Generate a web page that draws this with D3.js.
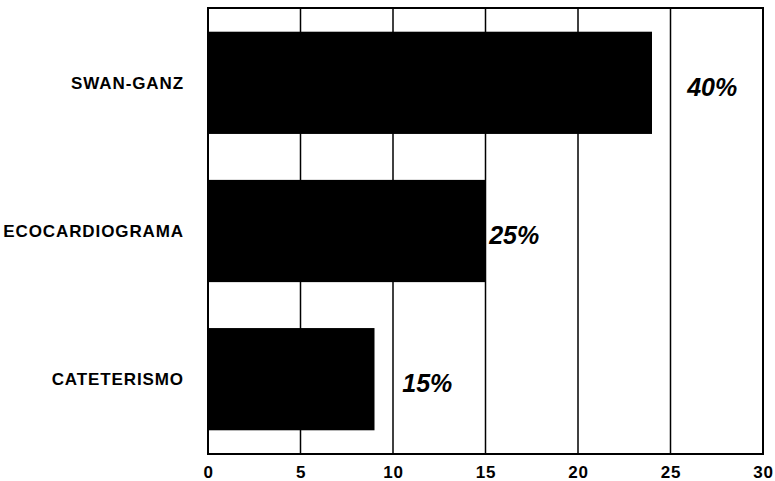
<!DOCTYPE html>
<html><head><meta charset="utf-8">
<script src="https://cdn.jsdelivr.net/npm/d3@7"></script>
<style>body{margin:0;background:#fff}svg{display:block}</style>
</head><body><svg id="c" width="775" height="481"></svg>
<script>
const categories = ["SWAN-GANZ", "ECOCARDIOGRAMA", "CATETERISMO"];
const values = [24, 15, 9];
const pctLabels = ["40%", "25%", "15%"];
const labelAt = [25.9, 15.2, 10.5];
const xTicks = [0, 5, 10, 15, 20, 25, 30];

const svg = d3.select("#c");
const m = {l: 208, r: 763, t: 8, b: 454};
const x = d3.scaleLinear().domain([0, 30]).range([m.l, m.r]);
const y = d3.scaleBand().domain(categories).range([m.t, m.b]).paddingInner(0.31).paddingOuter(0.16);

// grid lines
svg.append("g").selectAll("line").data(xTicks.slice(1, -1)).join("line")
  .attr("x1", d => x(d)).attr("x2", d => x(d)).attr("y1", m.t).attr("y2", m.b)
  .attr("stroke", "#000").attr("stroke-width", 1.5);

// bars
svg.append("g").selectAll("rect").data(values).join("rect")
  .attr("x", x(0)).attr("y", (d, i) => y(categories[i]))
  .attr("width", d => x(d) - x(0)).attr("height", y.bandwidth())
  .attr("fill", "#000");

// frame
svg.append("rect").attr("x", m.l).attr("y", m.t).attr("width", m.r - m.l).attr("height", m.b - m.t)
  .attr("fill", "none").attr("stroke", "#000").attr("stroke-width", 2);

// x axis labels
const xa = svg.append("g").attr("transform", `translate(0,${m.b})`)
  .call(d3.axisBottom(x).tickValues(xTicks).tickSize(0).tickPadding(0).tickFormat(d3.format("d")));
xa.select(".domain").remove();
xa.selectAll("text").attr("dy", null).attr("y", 24)
  .attr("font-family", "Liberation Sans, Arial, sans-serif").attr("font-weight", "bold")
  .attr("font-size", 17).attr("letter-spacing", 0.8).attr("fill", "#000");

// category labels
svg.append("g").selectAll("text").data(categories).join("text")
  .attr("x", 184).attr("y", d => y(d) + y.bandwidth() / 2 + 6)
  .attr("text-anchor", "end")
  .attr("font-family", "Liberation Sans, Arial, sans-serif").attr("font-weight", "bold")
  .attr("font-size", 17).attr("letter-spacing", 0.9).attr("fill", "#000").text(d => d);

// percent labels
svg.append("g").selectAll("text").data(pctLabels).join("text")
  .attr("x", (d, i) => x(labelAt[i])).attr("y", (d, i) => y(categories[i]) + y.bandwidth() / 2 + 13)
  .attr("font-family", "Liberation Sans, Arial, sans-serif").attr("font-weight", "bold")
  .attr("font-style", "italic").attr("font-size", 25).attr("fill", "#000").text(d => d);
</script></body></html>
